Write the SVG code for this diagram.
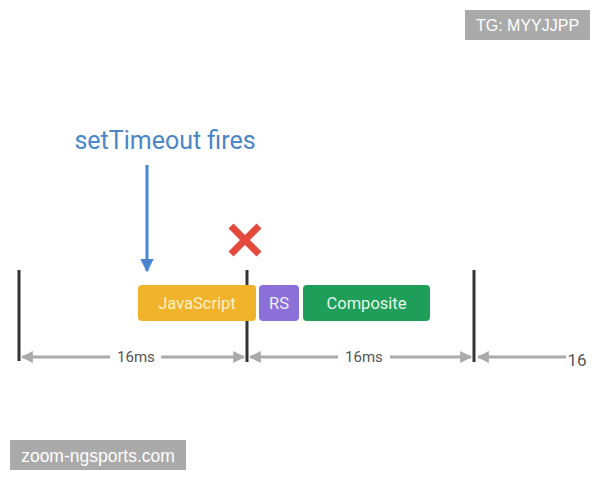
<svg xmlns="http://www.w3.org/2000/svg" width="600" height="480" viewBox="0 0 600 480">
<defs>
<style>
.tick{stroke:#333;stroke-width:3}
.dim{stroke:#aaa;stroke-width:3}
.dimt{font-family:Roboto,"Liberation Sans",sans-serif;font-size:15px;fill:#555;text-anchor:middle}
.lbl{font-family:Roboto,"Liberation Sans",sans-serif;font-size:16.5px;text-anchor:middle}
.wm{font-family:"Liberation Sans",Arial,sans-serif;font-size:16px;fill:#fff}
</style>
<marker id="ga" viewBox="0 0 10 10" refX="9" refY="5" markerWidth="4" markerHeight="4" orient="auto-start-reverse"><path d="M0,0 L10,5 L0,10 z" fill="#aaa"/></marker>
<marker id="ba" viewBox="0 0 10 10" refX="9" refY="5" markerWidth="4.5" markerHeight="4.5" orient="auto"><path d="M0,0 L10,5 L0,10 z" fill="#4a86d0"/></marker>
</defs>
<rect width="600" height="480" fill="#fff"/>
<g id="watermark-tg"><rect x="465" y="10" width="125" height="30" fill="#aaa"/><text class="wm" x="527.5" y="31" text-anchor="middle">TG: MYYJJPP</text></g>
<g id="watermark-site"><rect x="10" y="440" width="176" height="30" fill="#aaa"/><text class="wm" x="98" y="461.5" text-anchor="middle" style="font-size:17.5px">zoom-ngsports.com</text></g>
<g id="setTimeout"><text x="165" y="149" font-family="Roboto,'Liberation Sans',sans-serif" font-size="25" fill="#4a86c8" text-anchor="middle">setTimeout fires</text></g>
<g id="ticks">
<line class="tick" x1="19" y1="270" x2="19" y2="361"/>
<line class="tick" x1="247" y1="270" x2="247" y2="362"/>
<line class="tick" x1="474" y1="270" x2="474" y2="362"/>
</g>
<g id="cross"><path d="M231,226 L259,254 M259,226 L231,254" stroke="#e5483d" stroke-width="7"/></g>
<g id="javascript"><rect x="138" y="285" width="118" height="36" rx="4" fill="#f2b32c"/><text class="lbl" x="197" y="309" fill="#fdf0c4">JavaScript</text></g>
<g id="rs"><rect x="259" y="285" width="40" height="36" rx="4" fill="#8a70d8"/><text class="lbl" x="279" y="309" fill="#f2eefc">RS</text></g>
<g id="composite"><rect x="303" y="285" width="127" height="36" rx="4" fill="#1f9e5a"/><text class="lbl" x="366.5" y="309" fill="#e3f7ea">Composite</text></g>
<g id="connectors">
<line x1="147" y1="165" x2="147" y2="271" stroke="#4a86d0" stroke-width="3" marker-end="url(#ba)"/>
<line class="dim" x1="22" y1="357" x2="110" y2="357" marker-start="url(#ga)"/>
<line class="dim" x1="161" y1="357" x2="244" y2="357" marker-end="url(#ga)"/>
<line class="dim" x1="250" y1="357" x2="338" y2="357" marker-start="url(#ga)"/>
<line class="dim" x1="390" y1="357" x2="471" y2="357" marker-end="url(#ga)"/>
<line class="dim" x1="478" y1="357" x2="566" y2="357" marker-start="url(#ga)"/>
</g>
<g id="labels">
<text class="dimt" x="136" y="362">16ms</text>
<text class="dimt" x="364" y="362">16ms</text>
<text class="dimt" x="577" y="366" text-anchor="start" style="font-size:17px">16</text>
</g>
</svg>
